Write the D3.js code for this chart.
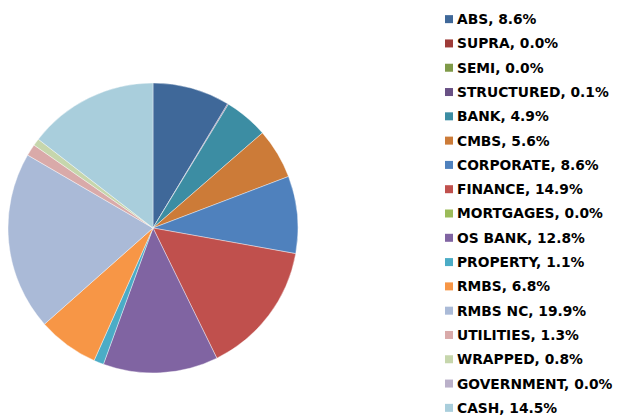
<!DOCTYPE html>
<html>
<head>
<meta charset="utf-8">
<script src="https://cdn.jsdelivr.net/npm/d3@7"></script>
<style>
  body { margin: 0; background: #fff; }
  svg { display: block; }
</style>
</head>
<body>
<div id="chart"></div>
<script>
const categories = ["ABS", "SUPRA", "SEMI", "STRUCTURED", "BANK", "CMBS", "CORPORATE", "FINANCE",
    "MORTGAGES", "OS BANK", "PROPERTY", "RMBS", "RMBS NC", "UTILITIES", "WRAPPED", "GOVERNMENT", "CASH"];
const values = [8.6, 0.0, 0.0, 0.1, 4.9, 5.6, 8.6, 14.9, 0.0, 12.8, 1.1, 6.8, 19.9, 1.3, 0.8, 0.0, 14.5];
const colors = ["#3f6899", "#9e3b38", "#7f9a48", "#695185", "#3c8da3", "#cc7b38", "#4f81bd", "#c0504d",
    "#9bbb59", "#8064a2", "#4bacc6", "#f79646", "#aabad7", "#d9aaa9", "#c6d6ac", "#bab0c9", "#a9cedc"];

const data = categories.map((c, i) => ({ name: c, value: values[i], color: colors[i] }));

const svg = d3.select("#chart")
    .append("svg")
    .attr("width", 623)
    .attr("height", 418);

const pie = d3.pie()
    .sort(null)
    .value(d => d.value);

const arc = d3.arc()
    .innerRadius(0)
    .outerRadius(145);

const g = svg.append("g")
    .attr("transform", "translate(153,228)");

g.selectAll("path")
    .data(pie(data).filter(d => d.data.value > 0))
    .enter().append("path")
    .attr("d", arc)
    .attr("fill", d => d.data.color)
    .attr("stroke", "#fff")
    .attr("stroke-width", 0.4);

const y = d3.scaleBand()
    .domain(categories)
    .range([7, 420]);

const legend = svg.append("g")
    .selectAll("g")
    .data(data)
    .enter().append("g")
    .attr("transform", d => `translate(445,${y(d.name) + y.bandwidth() / 2})`);

legend.append("rect")
    .attr("x", 0)
    .attr("y", -4)
    .attr("width", 8)
    .attr("height", 8)
    .attr("fill", d => d.color);

legend.append("text")
    .attr("x", 12)
    .attr("dy", "0.36em")
    .attr("font-family", "DejaVu Sans")
    .attr("font-weight", "bold")
    .attr("font-size", 13.8)
    .attr("fill", "#000")
    .text(d => `${d.name}, ${d.value.toFixed(1)}%`);
</script>
</body>
</html>
